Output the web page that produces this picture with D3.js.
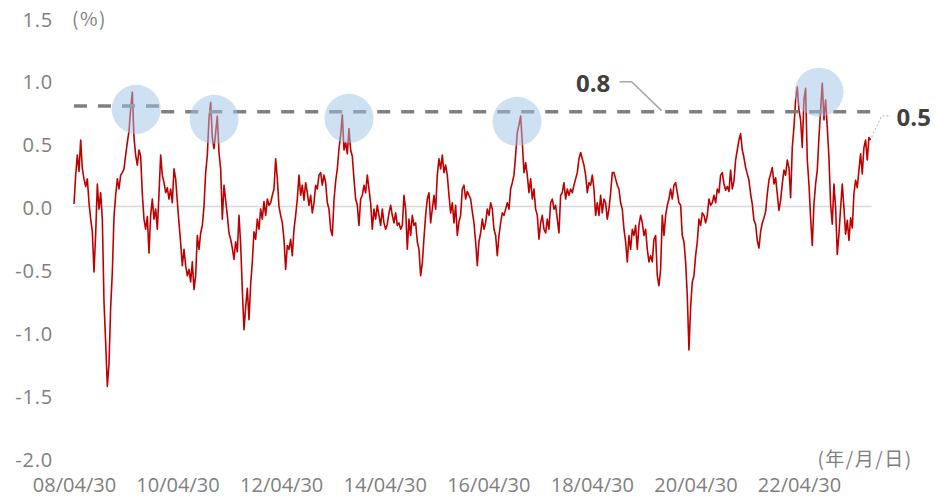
<!DOCTYPE html>
<html><head><meta charset="utf-8">
<script src="https://cdn.jsdelivr.net/npm/d3@7"></script>
<style>body{margin:0;background:#fff}svg{display:block}</style>
</head><body>
<svg id="chart" width="936" height="499"></svg>
<script>
// ---- data ----
const seriesStart = "2008-04-30";
const seriesEnd = "2023-09-17";
const values = [
0.02,0.25,0.41,0.28,0.53,0.30,0.22,0.16,0.22,0.03,
-0.10,-0.20,-0.52,-0.22,0.18,-0.02,0.11,-0.10,-0.76,-1.08,
-1.43,-1.25,-0.80,-0.52,-0.08,0.09,0.22,0.14,0.25,0.27,
0.30,0.41,0.51,0.60,0.78,0.91,0.55,0.41,0.33,0.45,
0.40,0.10,-0.10,-0.18,-0.08,-0.37,-0.07,0.06,-0.10,-0.02,
-0.18,0.10,0.41,0.25,0.19,0.11,0.15,0.06,0.14,0.03,
0.30,0.22,0.04,-0.13,-0.29,-0.47,-0.34,-0.47,-0.55,-0.50,
-0.60,-0.44,-0.66,-0.55,-0.23,-0.34,-0.21,
-0.15,0.00,0.27,0.41,0.70,0.83,0.55,0.46,0.59,0.72,
0.43,0.30,-0.10,0.17,0.05,-0.07,-0.21,-0.26,-0.33,-0.42,
-0.28,-0.36,-0.07,-0.30,-0.66,-0.98,-0.80,-0.65,-0.90,-0.62,
-0.44,-0.20,-0.26,-0.10,-0.18,-0.02,-0.10,0.04,-0.07,0.06,
0.01,0.03,0.09,0.14,0.38,0.22,0.00,-0.07,-0.13,-0.26,
-0.50,-0.31,-0.34,-0.26,-0.39,-0.18,-0.07,0.06,0.25,0.09,
0.17,0.05,0.19,0.11,0.01,0.09,-0.05,0.03,0.17,0.14,
0.25,0.27,0.17,0.25,0.19,0.03,-0.02,-0.18,-0.23,
0.05,0.20,0.30,0.46,0.57,0.73,0.45,0.51,0.42,0.62,
0.45,0.40,0.22,0.06,0.01,-0.15,0.06,0.09,0.17,0.11,
0.25,0.14,0.03,-0.18,-0.02,-0.10,0.01,-0.07,-0.15,-0.02,
-0.13,-0.18,-0.14,-0.05,0.01,-0.07,-0.13,-0.05,-0.15,-0.13,
-0.18,-0.15,0.09,-0.02,-0.34,-0.10,-0.23,-0.07,-0.15,-0.13,
-0.28,-0.34,-0.55,-0.45,-0.25,-0.07,0.06,0.11,-0.13,-0.02,
0.09,-0.02,0.25,0.38,0.30,0.41,0.27,0.33,0.25,0.09,
-0.05,0.03,-0.13,0.01,-0.23,-0.12,-0.07,0.14,
0.17,0.06,0.12,0.09,0.06,-0.04,-0.13,-0.28,-0.47,-0.28,
-0.21,-0.10,-0.18,-0.13,-0.02,-0.07,0.03,-0.02,-0.18,-0.23,
-0.39,-0.23,-0.13,-0.05,-0.07,-0.02,0.03,-0.02,0.14,0.19,
0.25,0.41,0.59,0.65,0.72,0.51,0.27,0.35,0.25,0.11,
0.22,0.06,0.14,-0.02,-0.07,-0.26,-0.13,-0.07,-0.18,-0.21,
-0.10,-0.18,0.03,0.06,-0.02,0.01,-0.10,-0.21,0.09,0.11,
0.19,0.06,0.14,0.09,0.14,0.11,0.17,0.22,0.27,0.38,
0.43,0.38,0.33,0.25,0.11,0.19,0.17,0.25,
0.14,-0.07,0.03,-0.07,0.09,-0.05,0.06,0.03,-0.10,-0.02,
0.11,0.27,0.27,0.22,0.17,0.14,0.03,-0.02,-0.18,-0.28,
-0.44,-0.23,-0.34,-0.18,-0.23,-0.15,-0.34,-0.15,-0.07,-0.13,
-0.23,-0.18,-0.34,-0.44,-0.39,-0.44,-0.26,-0.23,-0.55,-0.63,
-0.50,-0.07,-0.23,-0.07,0.01,0.06,0.14,0.06,0.17,0.19,
0.11,0.03,0.01,-0.23,-0.28,-0.44,-0.71,-1.14,-0.80,-0.60,
-0.55,-0.39,-0.28,-0.10,-0.15,-0.05,-0.07,-0.13,-0.07,0.06,
0.01,0.03,0.09,0.03,0.14,0.11,0.25,0.27,
0.18,0.13,0.16,0.12,0.29,0.14,0.20,0.37,0.45,0.53,
0.58,0.45,0.39,0.31,0.26,0.21,0.10,0.02,-0.11,-0.14,
-0.27,-0.33,-0.20,-0.13,-0.09,-0.04,0.10,0.21,0.26,0.31,
0.18,0.23,0.10,-0.03,0.05,0.18,0.29,0.25,0.37,0.31,
0.07,0.47,0.63,0.85,0.95,0.77,0.69,0.47,0.85,0.94,
0.37,0.18,-0.09,-0.31,0.02,0.18,0.29,0.55,0.77,0.98,
0.69,0.85,0.63,0.39,0.02,-0.14,0.18,-0.01,-0.38,-0.22,
-0.01,0.18,-0.01,-0.22,-0.11,-0.27,-0.09,-0.17,0.10,0.21,
0.15,0.29,0.42,0.26,0.47,0.53,0.37,0.55,0.53
];
const xTickDates = ["2008-04-30","2010-04-30","2012-04-30","2014-04-30","2016-04-30","2018-04-30","2020-04-30","2022-04-30"];
const yTicks = [-2.0,-1.5,-1.0,-0.5,0.0,0.5,1.0,1.5];
const refLineDates = ["2008-04-30","2010-01-05","2023-09-20"];
const refLineValues = [0.80, 0.755];
const highlightDates = ["2009-07-13","2011-01-13","2013-08-21","2016-11-18","2022-09-18"];
const highlightValues = [0.774, 0.694, 0.702, 0.678, 0.91];
const refLabel = {text:"0.8", date:"2019-09-04"};
const lastLabel = "0.5";
const yUnit = "(%)";
const xUnit = "(年/月/日)";

// ---- chart ----
const parse = d3.timeParse("%Y-%m-%d");
const t0 = parse(seriesStart), t1 = parse(seriesEnd);
const n = values.length;
const data = values.map((v,i)=>({date:new Date(+t0 + i*(t1-t0)/(n-1)), value:v}));

const svg = d3.select("#chart");
const x = d3.scaleTime().domain([parse("2008-04-30"), parse("2022-04-30")]).range([74, 799]);
const y = d3.scaleLinear().domain([-2, 1.5]).range([458, 18]);

const numFont = "'Open Sans', 'DejaVu Sans', sans-serif";
const cjkFont = "'Noto Sans CJK JP', 'Noto Sans', sans-serif";
const grey = "#7f7f7f";

// zero line
svg.append("line")
  .attr("x1", x(t0)).attr("x2", x(t1)+1)
  .attr("y1", y(0)).attr("y2", y(0))
  .attr("stroke", "#d9d9d9").attr("stroke-width", 1.5);

// y axis labels
const yAxis = d3.axisLeft(y).tickValues(yTicks).tickSize(0).tickPadding(0)
  .tickFormat(d => d.toFixed(1));
const gy = svg.append("g").attr("transform", "translate(53,0)").call(yAxis);
gy.select(".domain").remove();
gy.selectAll("text").attr("font-family", numFont).attr("font-size", 20)
  .attr("fill", grey).attr("dy", "0.4em").attr("letter-spacing", "0.8px");

// x axis labels
const xAxis = d3.axisBottom(x).tickValues(xTickDates.map(parse)).tickSize(0).tickPadding(0)
  .tickFormat(d3.timeFormat("%y/%m/%d"));
const gx = svg.append("g").attr("transform", "translate(0,470)").call(xAxis);
gx.select(".domain").remove();
gx.selectAll("text").attr("font-family", numFont).attr("font-size", 20)
  .attr("fill", grey).attr("dy", "1.1em");

// series line
svg.append("path").datum(data)
  .attr("fill", "none").attr("stroke", "#c00000").attr("stroke-width", 1.6)
  .attr("stroke-linejoin", "round")
  .attr("d", d3.line().x(d=>x(d.date)).y(d=>y(d.value)));

// reference dashed line (stepped)
const rd = refLineDates.map(parse);
const refPath = `M${x(rd[0])},${y(refLineValues[0])}H${x(rd[1])}M${x(rd[1])},${y(refLineValues[1])}H${x(rd[2])}`;
svg.append("path").attr("d", refPath).attr("fill","none")
  .attr("stroke", "#808080").attr("stroke-width", 3.5).attr("stroke-dasharray", "13,11");

// highlight circles
svg.selectAll("circle.hl").data(highlightDates.map((d,i)=>({date:parse(d), value:highlightValues[i]})))
  .join("circle").attr("class","hl")
  .attr("cx", d=>x(d.date)).attr("cy", d=>y(d.value)).attr("r", 24.5)
  .attr("fill", "#9dc3e6").attr("fill-opacity", 0.5);

// 0.8 annotation
const ax = x(parse(refLabel.date)), ay = y(refLineValues[1]);
svg.append("polyline")
  .attr("points", `${ax-42},${ay-30} ${ax-30},${ay-30} ${ax},${ay-1}`)
  .attr("fill","none").attr("stroke","#a6a6a6").attr("stroke-width",1.5);
svg.append("text").attr("x", ax-68.5).attr("y", ay-19.5)
  .attr("text-anchor","middle").attr("font-family", numFont).attr("font-weight","bold")
  .attr("font-size", 24).attr("fill","#404040").text(refLabel.text);

// 0.5 annotation (latest value)
const last = data[n-1];
const lx = x(last.date), ly = y(last.value);
svg.append("polyline")
  .attr("points", `${lx+1},${ly-3} ${lx+11},${ly-24} ${lx+20},${ly-24}`)
  .attr("fill","none").attr("stroke","#bfbfbf").attr("stroke-width",1.2).attr("stroke-dasharray","2,2");
svg.append("text").attr("x", lx+26).attr("y", ly-14)
  .attr("font-family", numFont).attr("font-weight","bold")
  .attr("font-size", 24).attr("fill","#404040").text(lastLabel);

// unit labels
svg.append("text").attr("x", 89.5).attr("y", 26).attr("text-anchor","middle")
  .attr("font-family", cjkFont).attr("font-size", 19).attr("letter-spacing","1.5px")
  .attr("fill", grey).text(yUnit);
svg.append("text").attr("x", 865).attr("y", 466).attr("text-anchor","middle")
  .attr("font-family", cjkFont).attr("font-size", 19).attr("letter-spacing","1.5px")
  .attr("fill", grey).text(xUnit);
</script>
</body></html>
